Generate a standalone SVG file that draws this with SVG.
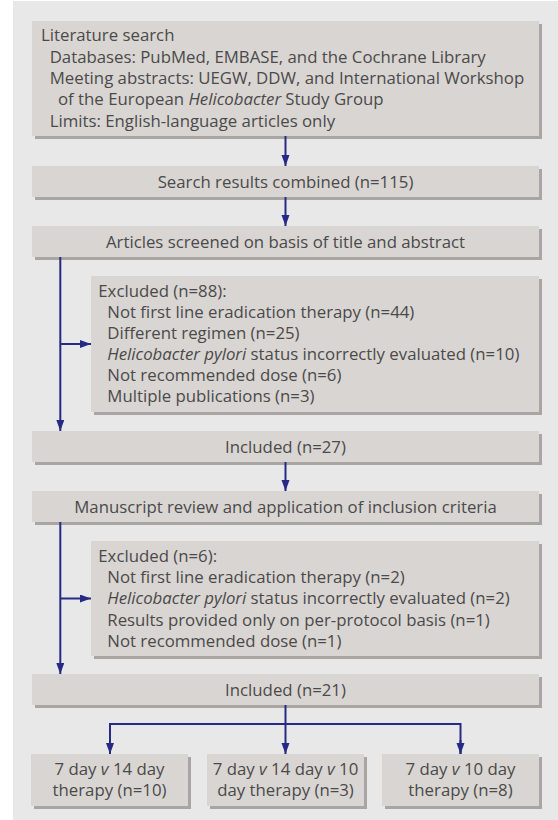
<svg xmlns="http://www.w3.org/2000/svg" width="558" height="820" viewBox="0 0 558 820">
<style>
.box{fill:#d9d5d2}
.sh{fill:#a9a5a3}
text{font-family:"Open Sans","Noto Sans",sans-serif;font-size:16.8px;fill:#4a4a4a}
.c{text-anchor:middle}
.i{font-style:italic}
.ln{stroke:#262a85;stroke-width:2;fill:none}
</style>
<defs>
<marker id="ah" markerUnits="userSpaceOnUse" markerWidth="12" markerHeight="9" refX="11" refY="4" orient="auto">
<path d="M0,0 L11,4 L0,8 z" fill="#262a85"/>
</marker>
</defs>
<rect x="0" y="0" width="558" height="820" fill="#ffffff"/>
<rect x="13" y="1" width="545" height="819" fill="#e8e8e8"/>

<g id="search">
<rect class="sh" x="35" y="24" width="507" height="115"/>
<rect class="box" x="32" y="21" width="507" height="115"/>
<text x="41" y="41.2">Literature search</text>
<text x="49.7" y="62.6">Databases: PubMed, EMBASE, and the Cochrane Library</text>
<text x="49.7" y="84">Meeting abstracts: UEGW, DDW, and International Workshop</text>
<text x="58" y="105.4">of the European <tspan class="i">Helicobacter</tspan> Study Group</text>
<text x="49.7" y="126.8">Limits: English-language articles only</text>
</g>

<g id="combined">
<rect class="sh" x="35" y="169" width="507" height="31"/>
<rect class="box" x="32" y="166" width="507" height="31"/>
<text class="c" x="285.5" y="187.5">Search results combined (n=115)</text>
</g>

<g id="screened">
<rect class="sh" x="35" y="229" width="507" height="31"/>
<rect class="box" x="32" y="226" width="507" height="31"/>
<text class="c" x="285.5" y="247.5">Articles screened on basis of title and abstract</text>
</g>

<g id="excluded88">
<rect class="sh" x="94" y="279" width="448" height="136"/>
<rect class="box" x="91" y="276" width="448" height="136"/>
<text x="98.3" y="296.5">Excluded (n=88):</text>
<text x="107.3" y="317.6">Not first line eradication therapy (n=44)</text>
<text x="107.3" y="338.7">Different regimen (n=25)</text>
<text x="107.3" y="359.8"><tspan class="i">Helicobacter pylori</tspan> status incorrectly evaluated (n=10)</text>
<text x="107.3" y="380.9">Not recommended dose (n=6)</text>
<text x="107.3" y="402">Multiple publications (n=3)</text>
</g>

<g id="included27">
<rect class="sh" x="35" y="434" width="507" height="31"/>
<rect class="box" x="32" y="431" width="507" height="31"/>
<text class="c" x="285.5" y="452.5">Included (n=27)</text>
</g>

<g id="manuscript">
<rect class="sh" x="35" y="494" width="507" height="31"/>
<rect class="box" x="32" y="491" width="507" height="31"/>
<text class="c" x="285.5" y="512.5">Manuscript review and application of inclusion criteria</text>
</g>

<g id="excluded6">
<rect class="sh" x="94" y="544" width="448" height="115"/>
<rect class="box" x="91" y="541" width="448" height="115"/>
<text x="98.3" y="562">Excluded (n=6):</text>
<text x="107.3" y="583.2">Not first line eradication therapy (n=2)</text>
<text x="107.3" y="604.4"><tspan class="i">Helicobacter pylori</tspan> status incorrectly evaluated (n=2)</text>
<text x="107.3" y="625.6">Results provided only on per-protocol basis (n=1)</text>
<text x="107.3" y="646.8">Not recommended dose (n=1)</text>
</g>

<g id="included21">
<rect class="sh" x="35" y="677" width="507" height="31"/>
<rect class="box" x="32" y="674" width="507" height="31"/>
<text class="c" x="285.5" y="695.5">Included (n=21)</text>
</g>

<g id="t7v14">
<rect class="sh" x="34" y="757" width="157" height="52"/>
<rect class="box" x="31" y="754" width="157" height="52"/>
<text class="c" x="109.5" y="775">7 day <tspan class="i">v</tspan> 14 day</text>
<text class="c" x="109.5" y="796">therapy (n=10)</text>
</g>

<g id="t7v14v10">
<rect class="sh" x="210" y="757" width="157" height="52"/>
<rect class="box" x="207" y="754" width="157" height="52"/>
<text class="c" x="285.5" y="775">7 day <tspan class="i">v</tspan> 14 day <tspan class="i">v</tspan> 10</text>
<text class="c" x="285.5" y="796">day therapy (n=3)</text>
</g>

<g id="t7v10">
<rect class="sh" x="385" y="757" width="157" height="52"/>
<rect class="box" x="382" y="754" width="157" height="52"/>
<text class="c" x="460.5" y="775">7 day <tspan class="i">v</tspan> 10 day</text>
<text class="c" x="460.5" y="796">therapy (n=8)</text>
</g>

<g id="connectors">
<line class="ln" x1="285.5" y1="136" x2="285.5" y2="166" marker-end="url(#ah)"/>
<line class="ln" x1="285.5" y1="197" x2="285.5" y2="226" marker-end="url(#ah)"/>
<line class="ln" x1="60.3" y1="257" x2="60.3" y2="431" marker-end="url(#ah)"/>
<line class="ln" x1="60.3" y1="344" x2="91" y2="344" marker-end="url(#ah)"/>
<line class="ln" x1="285.5" y1="462" x2="285.5" y2="491" marker-end="url(#ah)"/>
<line class="ln" x1="60.3" y1="522" x2="60.3" y2="674" marker-end="url(#ah)"/>
<line class="ln" x1="60.3" y1="598.5" x2="91" y2="598.5" marker-end="url(#ah)"/>
<line class="ln" x1="285.5" y1="705" x2="285.5" y2="754" marker-end="url(#ah)"/>
<polyline class="ln" points="110,754 110,724 460.5,724 460.5,754"/>
<line class="ln" x1="110" y1="740" x2="110" y2="754" marker-end="url(#ah)"/>
<line class="ln" x1="460.5" y1="740" x2="460.5" y2="754" marker-end="url(#ah)"/>
</g>
</svg>
